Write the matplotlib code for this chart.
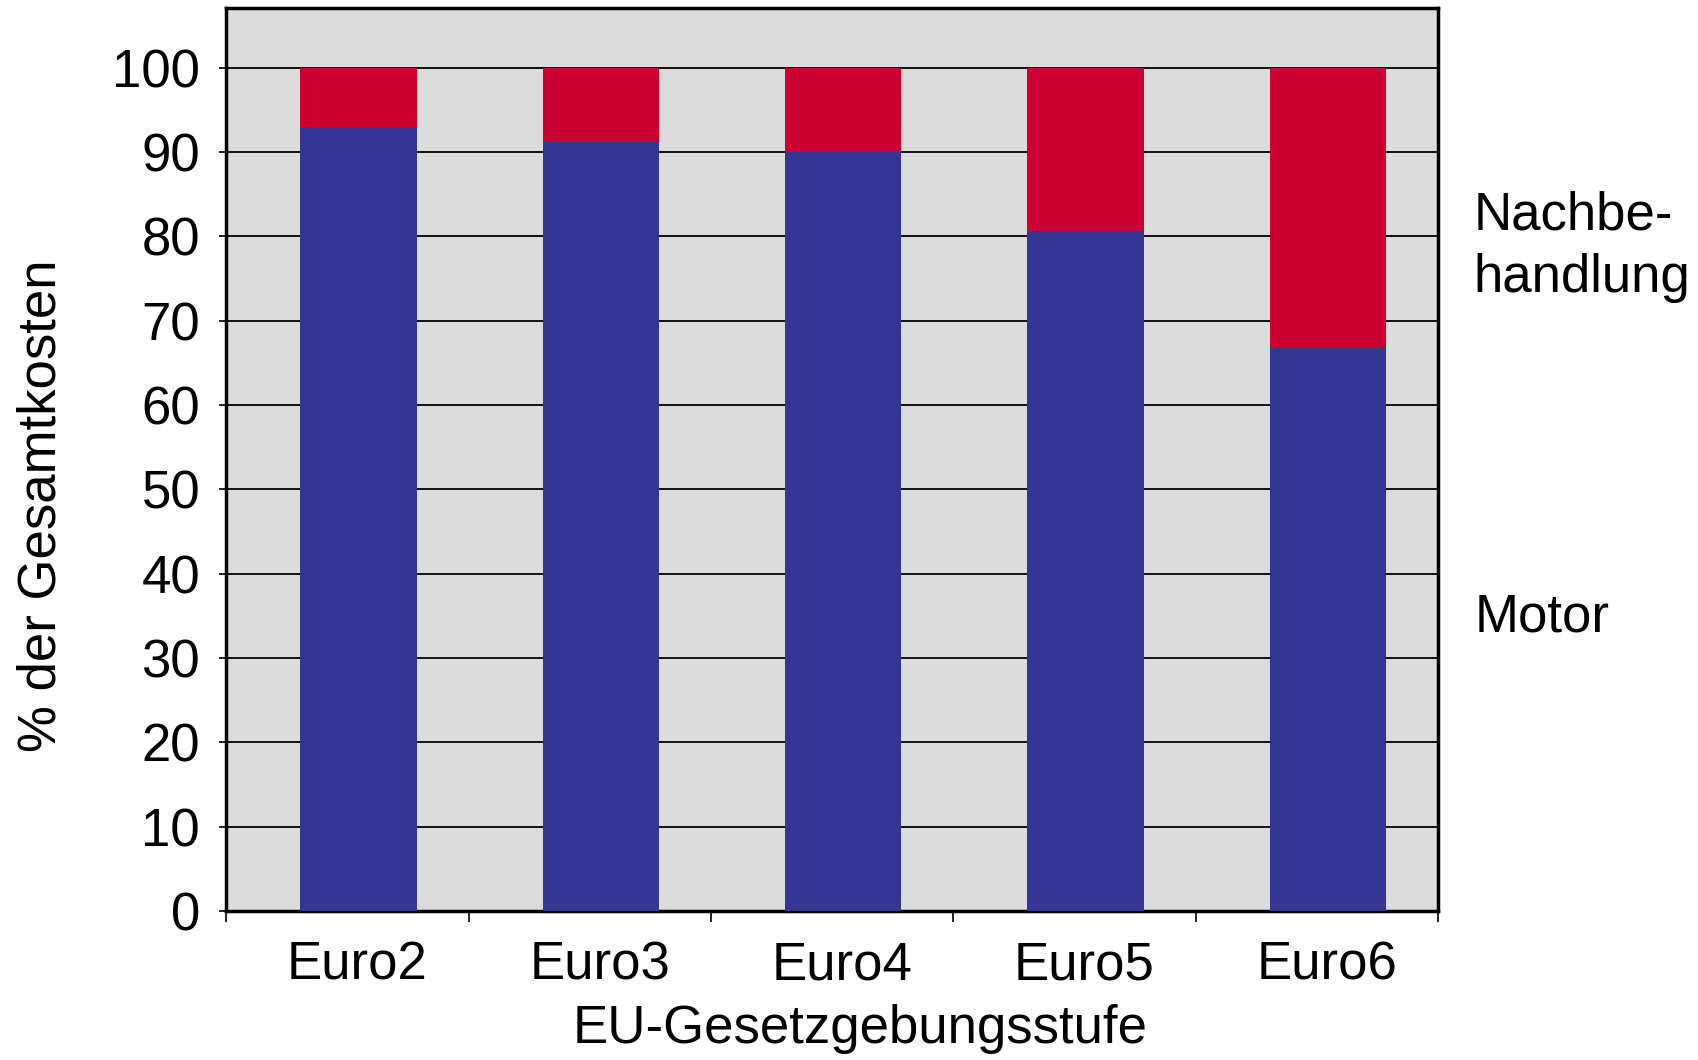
import matplotlib
matplotlib.use("Agg")
import matplotlib.pyplot as plt
import numpy as np

plt.rcParams['font.family'] = ['Liberation Sans', 'DejaVu Sans']

# Kostenanteile in % der Gesamtkosten
stufen = ['Euro2', 'Euro3', 'Euro4', 'Euro5', 'Euro6']
motor = [92.8, 91.2, 90.0, 80.6, 66.8]
nachbehandlung = [100 - m for m in motor]

farbe_motor = '#353596'
farbe_nachb = '#CC0033'

fig = plt.figure(figsize=(16.99, 10.60), dpi=100)
ax = fig.add_axes([0.1333, 0.1406, 0.7131, 0.8514])
ax.set_facecolor('#DCDCDC')

# Saeulen sitzen leicht rechts der Kategoriemitte
x = np.arange(len(stufen))
xs = x + 0.045
ax.bar(xs, motor, width=0.48, color=farbe_motor, zorder=3)
ax.bar(xs, nachbehandlung, width=0.48, bottom=motor, color=farbe_nachb, zorder=3)

ax.set_xlim(-0.5, len(stufen) - 0.5)
ax.set_ylim(0, 107)

ax.set_yticks(np.arange(0, 101, 10))
ax.yaxis.grid(True, color='black', linewidth=1.3, zorder=1)
ax.set_axisbelow(True)

# Striche an den Kategoriegrenzen, Beschriftung in der Mitte
ax.set_xticks(np.arange(-0.5, len(stufen), 1.0))
ax.set_xticklabels([])
ax.set_xticks(x + 0.04, minor=True)
ax.set_xticklabels(stufen, minor=True)
ax.tick_params(axis='x', which='major', length=8, width=1.2, direction='out')
ax.tick_params(axis='x', which='minor', length=0, pad=21, labelsize=38)
ax.tick_params(axis='y', length=5, width=1.2, pad=14, labelsize=38)

for s in ax.spines.values():
    s.set_linewidth(2.5)
    s.set_color('black')

ax.set_xlabel('EU-Gesetzgebungsstufe', fontsize=38, va='center')
ax.xaxis.set_label_coords(0.523, -0.131)
ax.set_ylabel('% der Gesamtkosten', fontsize=38, va='center')
ax.yaxis.set_label_coords(-0.153, 0.449)

ax.text(4.645, 80.8, 'Nachbe-', fontsize=38, va='baseline', ha='left', clip_on=False)
ax.text(4.645, 73.4, 'handlung', fontsize=38, va='baseline', ha='left', clip_on=False)
ax.text(4.65, 33.1, 'Motor', fontsize=38, va='baseline', ha='left', clip_on=False)

fig.savefig('out.png', dpi=100)
